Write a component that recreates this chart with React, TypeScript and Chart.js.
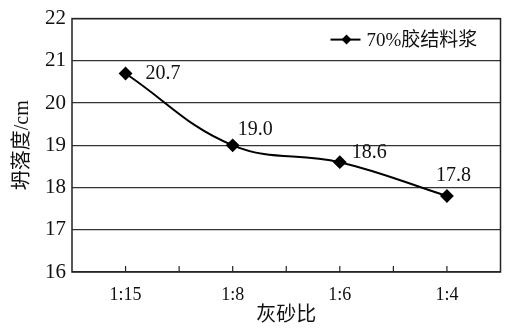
import React, { useEffect, useRef } from "react";
import { Chart, registerables } from "chart.js";

Chart.register(...registerables);

const categories = ["1:15", "1:8", "1:6", "1:4"];
const slumpValues = [20.7, 19.0, 18.6, 17.8];
const seriesName = "70%胶结料浆";
const yTicks = [16, 17, 18, 19, 20, 21, 22];
const xTitle = "灰砂比";
const yTitle = "坍落度/cm";

// label placement relative to each marker (dx, dy in px)
const labelOffsets: [number, number][] = [
  [20, 0],
  [5, -16],
  [12, -9],
  [-11, -20],
];

const SERIF = '"Liberation Serif", "Times New Roman", "DejaVu Serif", serif, "Noto Sans CJK SC"';

const decorations = {
  id: "decorations",
  afterDraw(chart: any) {
    const { ctx, chartArea } = chart;
    const xs = chart.scales.x;
    ctx.save();
    // plot frame
    ctx.strokeStyle = "#222";
    ctx.lineWidth = 1.5;
    ctx.strokeRect(chartArea.left, chartArea.top, chartArea.right - chartArea.left, chartArea.bottom - chartArea.top);

    // inward tick marks at category centres and boundaries
    ctx.lineWidth = 1.2;
    for (let i = 0; i < categories.length; i++) {
      const marks = [xs.getPixelForValue(i)];
      if (i < categories.length - 1) {
        marks.push((xs.getPixelForValue(i) + xs.getPixelForValue(i + 1)) / 2);
      }
      for (const px of marks) {
        ctx.beginPath();
        ctx.moveTo(px, chartArea.bottom);
        ctx.lineTo(px, chartArea.bottom - 6);
        ctx.stroke();
      }
    }

    // value labels
    const meta = chart.getDatasetMeta(0);
    ctx.fillStyle = "#111";
    ctx.font = `20px ${SERIF}`;
    ctx.textAlign = "left";
    ctx.textBaseline = "middle";
    meta.data.forEach((pt: any, i: number) => {
      const [dx, dy] = labelOffsets[i];
      ctx.fillText(slumpValues[i].toFixed(1), pt.x + dx, pt.y + dy);
    });

    // legend
    const ly = chartArea.top + 21;
    const lx = chartArea.right - 170;
    ctx.strokeStyle = "#000";
    ctx.lineWidth = 2;
    ctx.beginPath();
    ctx.moveTo(lx, ly);
    ctx.lineTo(lx + 30, ly);
    ctx.stroke();
    ctx.fillStyle = "#000";
    ctx.beginPath();
    ctx.moveTo(lx + 16, ly - 5);
    ctx.lineTo(lx + 21, ly);
    ctx.lineTo(lx + 16, ly + 5);
    ctx.lineTo(lx + 11, ly);
    ctx.closePath();
    ctx.fill();
    ctx.font = `19px ${SERIF}`;
    ctx.fillStyle = "#111";
    ctx.fillText(seriesName, lx + 36, ly + 1);

    // axis titles
    ctx.font = `20px ${SERIF}`;
    ctx.textAlign = "center";
    ctx.fillText(xTitle, (chartArea.left + chartArea.right) / 2, 316);
    ctx.save();
    ctx.translate(23, (chartArea.top + chartArea.bottom) / 2);
    ctx.rotate(-Math.PI / 2);
    ctx.fillText(yTitle, 0, 0);
    ctx.restore();

    ctx.restore();
  },
};

export default function App() {
  const canvasRef = useRef<HTMLCanvasElement | null>(null);

  useEffect(() => {
    document.body.style.margin = "0";
    const canvas = canvasRef.current;
    if (!canvas) return;
    const chart = new Chart(canvas, {
      type: "line",
      data: {
        labels: categories,
        datasets: [
          {
            label: seriesName,
            data: slumpValues,
            borderColor: "#000",
            backgroundColor: "#000",
            borderWidth: 2,
            tension: 0.4,
            pointStyle: "rectRot",
            pointRadius: 5.5,
            pointBackgroundColor: "#000",
            pointBorderColor: "#000",
          },
        ],
      },
      options: {
        responsive: false,
        animation: false,
        layout: { padding: { top: 14, right: 6, left: 0, bottom: 0 } },
        plugins: {
          legend: { display: false },
          tooltip: { enabled: false },
        },
        scales: {
          x: {
            type: "category",
            offset: true,
            grid: { display: false },
            border: { display: false },
            ticks: {
              color: "#111",
              font: { family: SERIF, size: 18 },
              padding: 4,
              maxRotation: 0,
            },
            afterFit(scale: any) {
              scale.height = 58;
            },
          },
          y: {
            min: 16,
            max: 22,
            afterBuildTicks(scale: any) {
              scale.ticks = yTicks.map((v) => ({ value: v }));
            },
            grid: { color: "#333", lineWidth: 1.3, drawTicks: false },
            border: { display: false },
            ticks: {
              color: "#111",
              font: { family: SERIF, size: 21 },
              padding: 6,
            },
            afterFit(scale: any) {
              scale.width = 72;
            },
          },
        },
      },
      plugins: [decorations],
    });
    return () => chart.destroy();
  }, []);

  return <canvas ref={canvasRef} width={508} height={330} style={{ display: "block" }} />;
}
